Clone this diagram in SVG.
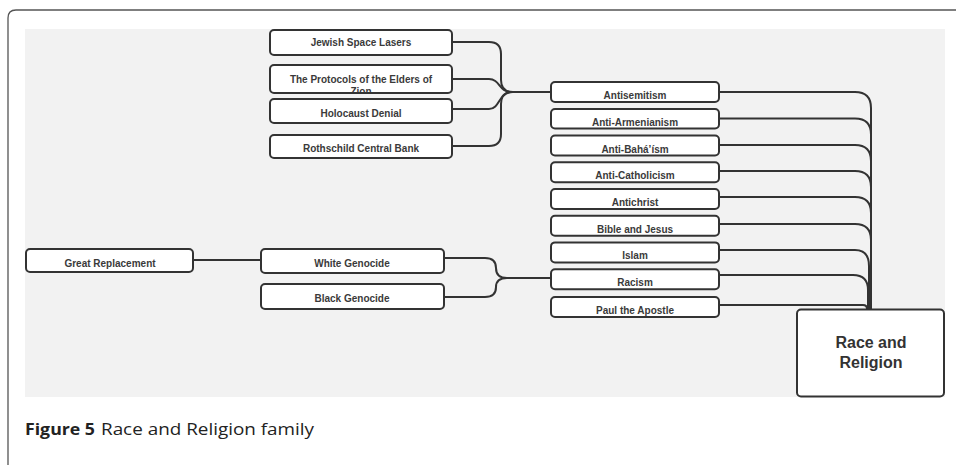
<svg xmlns="http://www.w3.org/2000/svg" width="956" height="465" viewBox="0 0 956 465">
<style>
.box{fill:#fff;stroke:#333;stroke-width:2}
.t{font-family:"Liberation Sans",Arial,sans-serif;font-size:10px;font-weight:bold;fill:#3a3a3a;text-anchor:middle}
.big{font-family:"Liberation Sans",Arial,sans-serif;font-size:16px;font-weight:bold;fill:#333;text-anchor:middle}
.c{fill:none;stroke:#333;stroke-width:2}
.cap{font-family:"Open Sans","Noto Sans",sans-serif;font-size:16.5px;fill:#222}
</style>
<defs>
<clipPath id="clipProt"><rect x="270" y="65" width="182" height="27"/></clipPath>
</defs>
<path d="M8,470 V18 Q8,10 16,10 H960" fill="none" stroke="#555" stroke-width="1.3"/>
<rect x="25" y="29" width="920" height="368" fill="#f2f2f2"/>

<g id="connectors">
<path class="c" d="M452,42 H489 Q501,42 501,54 V80 Q501,92 513,92 H551"/>
<path class="c" d="M452,79 H489 C500,79 499,92 511,92"/>
<path class="c" d="M452,109 H489 C500,109 499,92 511,92"/>
<path class="c" d="M452,146 H489 Q501,146 501,134 V104 Q501,92 513,92"/>
<path class="c" d="M193,260 H261"/>
<path class="c" d="M444,258 H485 Q496,258 496,268 Q496,278 507,278 H551"/>
<path class="c" d="M444,297 H485 Q496,297 496,287 Q496,278 507,278"/>
<path class="c" d="M719,92 H855 Q871,92 871,108 V309"/>
<path class="c" d="M719,118.5 H855 Q871,118.5 871,134.5 V309"/>
<path class="c" d="M719,145 H855 Q871,145 871,161 V309"/>
<path class="c" d="M719,171 H855 Q871,171 871,187 V309"/>
<path class="c" d="M719,197 H855 Q871,197 871,213 V309"/>
<path class="c" d="M719,224 H855 Q871,224 871,240 V309"/>
<path class="c" d="M719,250 H855 Q869,250 869,266 V309"/>
<path class="c" d="M719,275 H853 Q868,275 868,290 V309"/>
<path class="c" d="M719,305 H863 Q867,305 867,309"/>
</g>

<g id="n-jewish"><rect class="box" x="270" y="30" width="182" height="25" rx="4"/><text class="t" x="361" y="46">Jewish Space Lasers</text></g>
<g id="n-protocols"><rect class="box" x="270" y="65" width="182" height="28" rx="4"/><g clip-path="url(#clipProt)"><text class="t" x="361" y="83">The Protocols of the Elders of</text><text class="t" x="361" y="95">Zion</text></g></g>
<g id="n-holocaust"><rect class="box" x="270" y="99" width="182" height="24" rx="4"/><text class="t" x="361" y="117">Holocaust Denial</text></g>
<g id="n-rothschild"><rect class="box" x="270" y="135" width="182" height="23" rx="4"/><text class="t" x="361" y="152">Rothschild Central Bank</text></g>

<g id="n-great"><rect class="box" x="26" y="249" width="167" height="23" rx="4"/><text class="t" x="110" y="267">Great Replacement</text></g>
<g id="n-white"><rect class="box" x="261" y="249" width="183" height="24" rx="4"/><text class="t" x="352" y="266.5">White Genocide</text></g>
<g id="n-black"><rect class="box" x="261" y="284" width="183" height="25" rx="4"/><text class="t" x="352" y="302">Black Genocide</text></g>

<g id="n-antisemitism"><rect class="box" x="551" y="82" width="168" height="20" rx="4"/><text class="t" x="635" y="99">Antisemitism</text></g>
<g id="n-antiarmenianism"><rect class="box" x="551" y="109" width="168" height="19.5" rx="4"/><text class="t" x="635" y="126">Anti-Armenianism</text></g>
<g id="n-antibahaism"><rect class="box" x="551" y="135.5" width="168" height="20" rx="4"/><text class="t" x="635" y="152.5">Anti-Bahá’ísm</text></g>
<g id="n-anticatholicism"><rect class="box" x="551" y="162.3" width="168" height="20" rx="4"/><text class="t" x="635" y="179.3">Anti-Catholicism</text></g>
<g id="n-antichrist"><rect class="box" x="551" y="189" width="168" height="20" rx="4"/><text class="t" x="635" y="206">Antichrist</text></g>
<g id="n-bible"><rect class="box" x="551" y="215.7" width="168" height="20" rx="4"/><text class="t" x="635" y="232.7">Bible and Jesus</text></g>
<g id="n-islam"><rect class="box" x="551" y="242.4" width="168" height="20" rx="4"/><text class="t" x="635" y="259.4">Islam</text></g>
<g id="n-racism"><rect class="box" x="551" y="269.2" width="168" height="20" rx="4"/><text class="t" x="635" y="286.2">Racism</text></g>
<g id="n-paul"><rect class="box" x="551" y="297" width="168" height="20" rx="4"/><text class="t" x="635" y="314">Paul the Apostle</text></g>

<g id="n-race-religion"><rect class="box" x="797" y="309.5" width="147" height="87" rx="4"/><text class="big" x="871" y="347.5">Race and</text><text class="big" x="871" y="367.5">Religion</text></g>

<text class="cap" x="25" y="435" font-weight="bold" textLength="70" lengthAdjust="spacingAndGlyphs">Figure 5</text>
<text class="cap" x="101" y="435" textLength="213" lengthAdjust="spacingAndGlyphs">Race and Religion family</text>
</svg>
